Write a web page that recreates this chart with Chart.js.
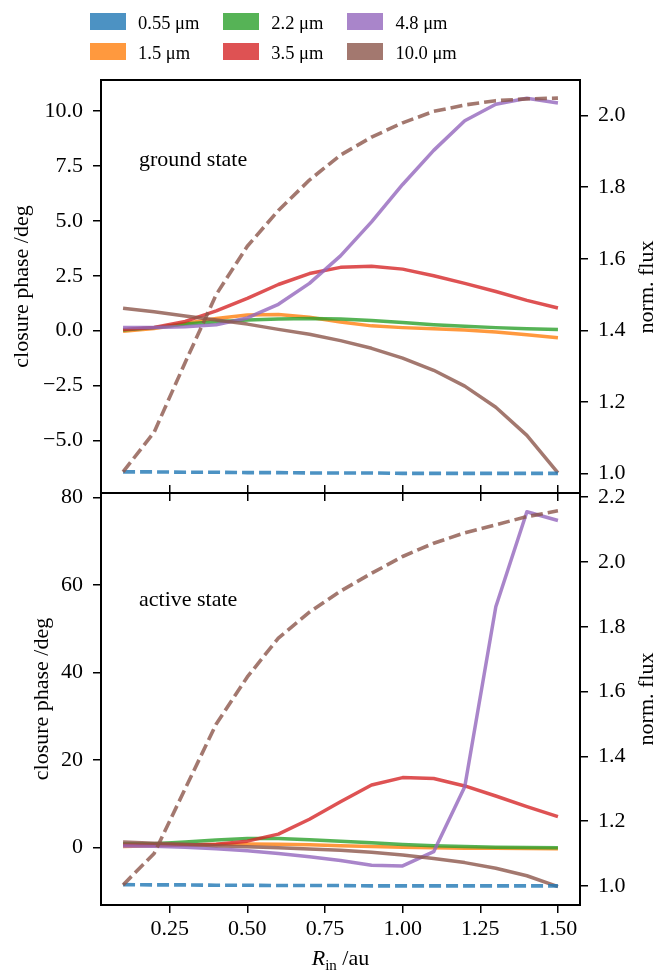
<!DOCTYPE html>
<html>
<head>
<meta charset="utf-8">
<script src="https://cdn.jsdelivr.net/npm/chart.js@4.4.0/dist/chart.umd.min.js"></script>
<style>
  body { margin: 0; background: #fff; }
  #fig { position: relative; width: 654px; height: 971px; overflow: hidden;
         font-family: 'Liberation Serif', 'Times New Roman', serif; color: #000; }
  .panel { position: absolute; left: 0; }
  #legend { position: absolute; left: 90px; top: 12.7px; display: flex; gap: 24px; font-size: 18.5px; }
  .col { display: flex; flex-direction: column; }
  .item { height: 30px; display: flex; align-items: flex-start; }
  .patch { width: 36px; height: 17px; }
  .lbl { margin-left: 12px; line-height: 17px; padding-top: 2px; white-space: nowrap; }
  .note { position: absolute; left: 139px; font-size: 22px; line-height: 22px; white-space: nowrap; }
  .rtitle { position: absolute; left: 645.6px; font-size: 22px; line-height: 1.107; white-space: nowrap;
            transform: translate(-50%, -50%) rotate(-90deg); }
  #xtitle { position: absolute; left: 101px; width: 479px; top: 947px; text-align: center;
            font-size: 22px; line-height: 22px; white-space: nowrap; }
  #xtitle sub { font-size: 15px; vertical-align: -5px; line-height: 0; }
</style>
</head>
<body>
<div id="fig">
  <canvas id="groundChart" class="panel" width="654" height="501" style="top:0px"></canvas>
  <canvas id="activeChart" class="panel" width="654" height="501" style="top:470px"></canvas>
  <div id="legend"></div>
  <div class="note" style="top:148.3px">ground state</div>
  <div class="note" style="top:588.3px">active state</div>
  <div class="rtitle" style="top:286.5px">norm. flux</div>
  <div class="rtitle" style="top:699px">norm. flux</div>
  <div id="xtitle"><i>R</i><sub>in</sub> /au</div>
</div>
<script>
// inner radius of the disc (x axis)
const radii = [0.1, 0.2, 0.3, 0.4, 0.5, 0.6, 0.7, 0.8, 0.9, 1.0, 1.1, 1.2, 1.3, 1.4, 1.5];

const wavelengths = ["0.55 μm", "1.5 μm", "2.2 μm", "3.5 μm", "4.8 μm", "10.0 μm"];
const colours = [
  "rgba(31,119,180,0.8)",
  "rgba(255,127,14,0.8)",
  "rgba(44,160,44,0.8)",
  "rgba(214,39,40,0.8)",
  "rgba(148,103,189,0.8)",
  "rgba(140,86,75,0.8)",
];

// ground state: closure phase (deg)
const groundCp15 = [-0.03, 0.1, 0.33, 0.56, 0.71, 0.74, 0.61, 0.4, 0.22, 0.14, 0.09, 0.03, -0.06, -0.18, -0.32];
const groundCp22 = [0.03, 0.14, 0.3, 0.41, 0.49, 0.53, 0.55, 0.53, 0.46, 0.37, 0.27, 0.2, 0.14, 0.09, 0.06];
const groundCp35 = [0.06, 0.15, 0.42, 0.9, 1.47, 2.1, 2.6, 2.88, 2.93, 2.8, 2.5, 2.15, 1.78, 1.38, 1.03];
const groundCp48 = [0.14, 0.14, 0.18, 0.27, 0.58, 1.2, 2.15, 3.4, 4.95, 6.65, 8.2, 9.55, 10.3, 10.57, 10.35];
const groundCp100 = [1.02, 0.86, 0.67, 0.49, 0.3, 0.06, -0.16, -0.45, -0.8, -1.25, -1.8, -2.52, -3.48, -4.76, -6.47];
// ground state: normalised flux
const groundFlux055 = [1.004, 1.004, 1.003, 1.003, 1.002, 1.002, 1.001, 1.001, 1.001, 1.0, 1.0, 1.0, 1.0, 1.0, 1.0];
const groundFlux100 = [1.004, 1.115, 1.31, 1.5, 1.635, 1.735, 1.82, 1.89, 1.94, 1.98, 2.012, 2.03, 2.042, 2.047, 2.049];

// active state: closure phase (deg)
const activeCp15 = [0.3, 0.45, 0.6, 0.75, 0.85, 0.8, 0.65, 0.45, 0.3, 0.1, 0.0, -0.1, -0.15, -0.2, -0.25];
const activeCp22 = [0.9, 0.9, 1.3, 1.75, 2.1, 2.1, 1.8, 1.5, 1.15, 0.75, 0.45, 0.25, 0.1, 0.05, 0.0];
const activeCp35 = [0.6, 0.7, 0.6, 0.8, 1.5, 3.1, 6.5, 10.5, 14.3, 16.0, 15.8, 14.1, 11.8, 9.4, 7.1];
const activeCp48 = [0.4, 0.35, 0.1, -0.25, -0.7, -1.3, -2.05, -2.9, -4.0, -4.15, -0.9, 13.9, 55.0, 76.7, 74.7];
const activeCp100 = [1.3, 1.0, 0.77, 0.46, 0.23, 0.0, -0.3, -0.6, -1.05, -1.65, -2.45, -3.4, -4.7, -6.4, -8.9];
// active state: normalised flux
const activeFlux055 = [1.004, 1.003, 1.003, 1.002, 1.002, 1.001, 1.001, 1.001, 1.0, 1.0, 1.0, 1.0, 1.0, 1.0, 1.0];
const activeFlux100 = [1.003, 1.1, 1.3, 1.5, 1.645, 1.765, 1.845, 1.91, 1.965, 2.017, 2.058, 2.09, 2.115, 2.14, 2.158];

// tick labels
const xTicks = [0.25, 0.5, 0.75, 1.0, 1.25, 1.5];
const groundCpTicks = [-5, -2.5, 0, 2.5, 5, 7.5, 10];
const groundFluxTicks = [1.0, 1.2, 1.4, 1.6, 1.8, 2.0];
const activeCpTicks = [0, 20, 40, 60, 80];
const activeFluxTicks = [1.0, 1.2, 1.4, 1.6, 1.8, 2.0, 2.2];

Chart.defaults.font.family = "'Liberation Serif', 'Times New Roman', serif";
Chart.defaults.font.size = 22;
Chart.defaults.color = "#000";

// Legend (matplotlib-style, column-major, 3 columns)
const legend = document.getElementById("legend");
for (let c = 0; c < 3; c++) {
  const col = document.createElement("div");
  col.className = "col";
  for (let r = 0; r < 2; r++) {
    const i = c * 2 + r;
    col.innerHTML += `<div class="item"><div class="patch" style="background:${colours[i]}"></div><span class="lbl">${wavelengths[i]}</span></div>`;
  }
  legend.appendChild(col);
}

const framePlugin = {
  id: "frame",
  afterDatasetsDraw(chart) {
    const { ctx, chartArea: a } = chart;
    ctx.save();
    ctx.strokeStyle = "#000";
    ctx.lineWidth = 2;
    ctx.strokeRect(a.left, a.top, a.right - a.left, a.bottom - a.top);
    ctx.restore();
  },
};

const fmt = (v, d) => v.toFixed(d).replace("-", "\u2212");

// keep the plot box fixed: no extra room for overhanging tick labels
function fixSize(s, w, h) {
  if (w !== null) s.width = w;
  if (h !== null) s.height = h;
  s.paddingTop = 0;
  s.paddingBottom = 0;
  s.paddingLeft = 0;
  s.paddingRight = 0;
}

function points(values) {
  return radii.map((r, i) => ({ x: r, y: values[i] }));
}

function solid(values, c, order) {
  return { data: points(values), borderColor: colours[c], yAxisID: "y", order: order };
}

function dashed(values, c, order) {
  return { data: points(values), borderColor: colours[c], yAxisID: "y1", order: order,
           borderDash: [12, 5], borderWidth: 3.6 };
}

function tickGrid() {
  return { drawOnChartArea: false, drawTicks: true, tickLength: 8, color: "#000", lineWidth: 1.5 };
}

function makePanel(id, p) {
  const scales = {
    x: {
      type: "linear", position: "bottom", min: 0.029, max: 1.571,
      afterBuildTicks: (s) => { s.ticks = xTicks.map((v) => ({ value: v })); },
      afterFit: (s) => fixSize(s, null, p.xHeight),
      ticks: { display: p.xLabels, padding: 3, maxRotation: 0, callback: (v) => fmt(v, 2) },
      grid: tickGrid(),
      border: { display: false },
    },
    y: {
      position: "left", min: p.cpMin, max: p.cpMax,
      afterBuildTicks: (s) => { s.ticks = p.cpTicks.map((v) => ({ value: v })); },
      afterFit: (s) => fixSize(s, 101, null),
      ticks: { padding: 10, callback: (v) => fmt(v, p.cpDigits) },
      grid: tickGrid(),
      border: { display: false },
      title: { display: true, text: "closure phase /deg", padding: { top: p.titlePad, bottom: 0 } },
    },
    y1: {
      position: "right", min: p.fluxMin, max: p.fluxMax,
      afterBuildTicks: (s) => { s.ticks = p.fluxTicks.map((v) => ({ value: v })); },
      afterFit: (s) => fixSize(s, 74, null),
      ticks: { padding: 10, callback: (v) => fmt(v, 1) },
      grid: tickGrid(),
      border: { display: false },
    },
  };
  if (p.topTicks) {
    scales.x2 = {
      type: "linear", axis: "x", position: "top", min: 0.029, max: 1.571,
      afterBuildTicks: (s) => { s.ticks = xTicks.map((v) => ({ value: v })); },
      afterFit: (s) => fixSize(s, null, 23),
      ticks: { display: false },
      grid: tickGrid(),
      border: { display: false },
    };
  }
  return new Chart(document.getElementById(id), {
    type: "line",
    data: {
      datasets: [
        solid(p.cp[0], 1, 7),
        solid(p.cp[1], 2, 6),
        solid(p.cp[2], 3, 5),
        solid(p.cp[3], 4, 4),
        solid(p.cp[4], 5, 3),
        dashed(p.flux[0], 0, 2),
        dashed(p.flux[1], 5, 1),
      ],
    },
    options: {
      responsive: false,
      animation: false,
      layout: { padding: { top: p.padTop, left: 0, right: 0, bottom: 0 } },
      elements: {
        point: { radius: 0 },
        line: { tension: 0, borderWidth: 3.5, borderJoinStyle: "round", fill: false },
      },
      plugins: { legend: { display: false }, tooltip: { enabled: false } },
      scales: scales,
    },
    plugins: [framePlugin],
  });
}

makePanel("groundChart", {
  cp: [groundCp15, groundCp22, groundCp35, groundCp48, groundCp100],
  flux: [groundFlux055, groundFlux100],
  cpMin: -7.38, cpMax: 11.4, cpTicks: groundCpTicks, cpDigits: 1,
  fluxMin: 0.945, fluxMax: 2.0998, fluxTicks: groundFluxTicks,
  xHeight: 8, xLabels: false, topTicks: false, padTop: 80, titlePad: 8.8,
});

makePanel("activeChart", {
  cp: [activeCp15, activeCp22, activeCp35, activeCp48, activeCp100],
  flux: [activeFlux055, activeFlux100],
  cpMin: -13.08, cpMax: 80.98, cpTicks: activeCpTicks, cpDigits: 0,
  fluxMin: 0.941, fluxMax: 2.213, fluxTicks: activeFluxTicks,
  xHeight: 66, xLabels: true, topTicks: true, padTop: 0, titlePad: 28.8,
});
</script>
</body>
</html>
